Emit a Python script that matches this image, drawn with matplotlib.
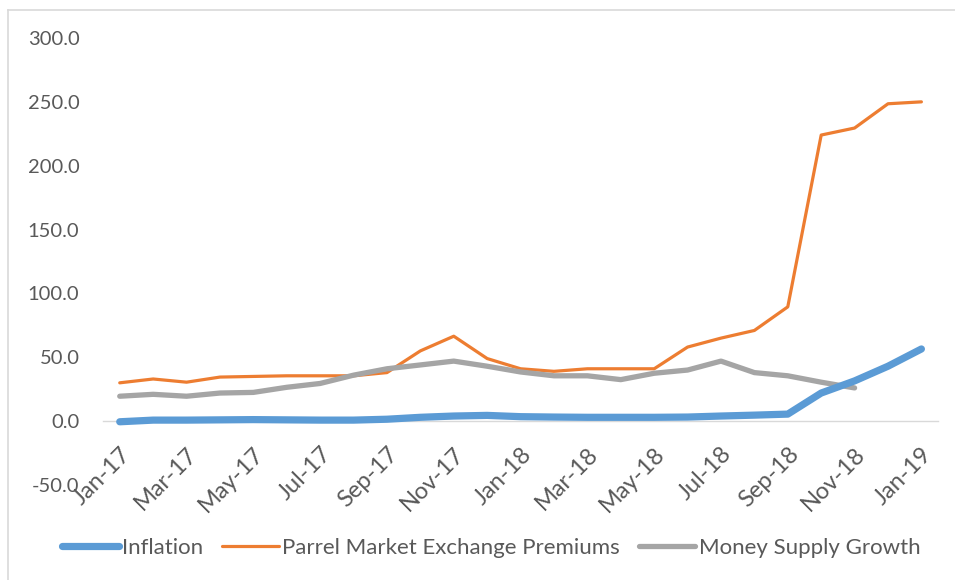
import matplotlib
matplotlib.use("Agg")
import matplotlib.pyplot as plt
from matplotlib.lines import Line2D

months = ["Jan-17", "Feb-17", "Mar-17", "Apr-17", "May-17", "Jun-17", "Jul-17",
          "Aug-17", "Sep-17", "Oct-17", "Nov-17", "Dec-17", "Jan-18", "Feb-18",
          "Mar-18", "Apr-18", "May-18", "Jun-18", "Jul-18", "Aug-18", "Sep-18",
          "Oct-18", "Nov-18", "Dec-18", "Jan-19"]

inflation = [-0.5, 0.8, 0.8, 1.0, 1.2, 1.0, 0.8, 0.8, 1.5, 3.0, 4.0, 4.5, 3.5,
             3.2, 3.0, 3.0, 3.0, 3.2, 4.0, 4.7, 5.5, 22.0, 31.5, 43.0, 56.5]
premiums = [30.0, 33.0, 30.5, 34.5, 35.0, 35.5, 35.5, 35.5, 38.0, 55.0, 66.5,
            49.0, 41.0, 39.0, 41.0, 41.0, 41.0, 58.0, 65.0, 71.0, 89.5, 224.0,
            229.5, 248.5, 250.0]
money_supply = [19.5, 21.0, 19.5, 22.0, 22.5, 26.5, 29.5, 36.0, 41.0, 44.0,
                47.0, 43.0, 38.5, 35.5, 35.5, 32.5, 37.5, 40.0, 47.0, 38.0,
                35.5, 30.5, 26.0]

series_names = ["Inflation", "Parrel Market Exchange Premiums", "Money Supply Growth"]

txt = "#595959"
plt.rcParams["font.family"] = ["Lato", "DejaVu Sans"]

fig = plt.figure(figsize=(9.55, 5.8), dpi=100)
ax = fig.add_axes([0.1079, 0.1638, 0.8744, 0.7707])

# axis line sits at y = 0 (do this before the tick labels, it resets them)
for s in ["top", "right", "left"]:
    ax.spines[s].set_visible(False)
ax.spines["bottom"].set_position(("data", 0))
ax.spines["bottom"].set_color("#D9D9D9")
ax.spines["bottom"].set_linewidth(1.0)
ax.spines["bottom"].set_zorder(1)

x = list(range(len(months)))
ax.plot(x, inflation, color="#5B9BD5", lw=5.2, solid_capstyle="round",
        solid_joinstyle="round", label=series_names[0], zorder=3)
ax.plot(x, premiums, color="#ED7D31", lw=2.3, solid_capstyle="round",
        solid_joinstyle="round", label=series_names[1], zorder=2)
ax.plot(x[:len(money_supply)], money_supply, color="#A5A5A5", lw=3.8,
        solid_capstyle="round", solid_joinstyle="round",
        label=series_names[2], zorder=2)

ax.set_xlim(-0.5, len(months) - 0.5)
ax.set_ylim(-50, 300)
ax.set_yticks(range(-50, 301, 50))
ax.set_yticklabels([f"{v:.1f}" for v in range(-50, 301, 50)])

ax.set_xticks(x[::2])
ax.set_xticklabels(months[::2], rotation=45, ha="right", va="top",
                   rotation_mode="anchor")

ax.tick_params(axis="both", length=0, colors=txt, labelsize=14.5)
ax.tick_params(axis="x", pad=16, labelsize=17)
ax.tick_params(axis="y", pad=17)

leg = fig.legend(loc="center", bbox_to_anchor=(491 / 955, 1 - 548 / 580),
                 ncol=3, frameon=False, fontsize=16, handlelength=2.55,
                 handletextpad=0.15, columnspacing=0.85)
for t in leg.get_texts():
    t.set_color(txt)

# outer chart border
fig.add_artist(Line2D([8 / 955, 8 / 955], [0, 1 - 10 / 580],
                      transform=fig.transFigure, color="#D9D9D9", lw=1.2))
fig.add_artist(Line2D([8 / 955, 1], [1 - 10 / 580, 1 - 10 / 580],
                      transform=fig.transFigure, color="#D9D9D9", lw=1.2))

fig.savefig("out.png", dpi=100)
